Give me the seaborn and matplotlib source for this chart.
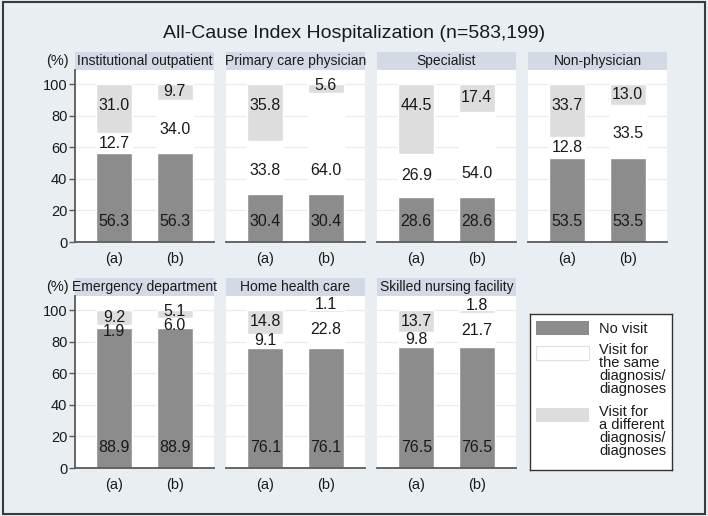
import numpy as np
import pandas as pd
import matplotlib
matplotlib.use("Agg")
import matplotlib.pyplot as plt
from matplotlib.patches import Rectangle
import seaborn as sns

sns.set_style("white")
plt.rcParams['font.family'] = ['Liberation Sans', 'DejaVu Sans']

# data
settings = ["Institutional outpatient", "Primary care physician", "Specialist",
            "Non-physician", "Emergency department", "Home health care",
            "Skilled nursing facility"]
groups = ["(a)", "(b)"]
no_visit = [[56.3, 56.3], [30.4, 30.4], [28.6, 28.6], [53.5, 53.5],
            [88.9, 88.9], [76.1, 76.1], [76.5, 76.5]]
same_dx = [[12.7, 34.0], [33.8, 64.0], [26.9, 54.0], [12.8, 33.5],
           [1.9, 6.0], [9.1, 22.8], [9.8, 21.7]]
diff_dx = [[31.0, 9.7], [35.8, 5.6], [44.5, 17.4], [33.7, 13.0],
           [9.2, 5.1], [14.8, 1.1], [13.7, 1.8]]
legend_labels = ["No visit",
                 "Visit for\nthe same\ndiagnosis/\ndiagnoses",
                 "Visit for\na different\ndiagnosis/\ndiagnoses"]
title = "All-Cause Index Hospitalization (n=583,199)"

C_NO = "#8c8c8c"
C_SAME = "#ffffff"
C_DIFF = "#dddddd"
BG = "#e8eef1"
STRIP = "#d4d9e6"
TXT = "#1a1a1a"

W, H = 708, 516
fig = plt.figure(figsize=(W / 100, H / 100), dpi=100, facecolor=BG)

lefts = [75, 226, 377, 528]
tops = [70, 296]
aw, ah = 139, 172
ymax = 109

def place(px_left, px_top, pw, ph):
    return [px_left / W, 1 - (px_top + ph) / H, pw / W, ph / H]

for i, name in enumerate(settings):
    r, c = divmod(i, 4)
    ax = fig.add_axes(place(lefts[c], tops[r], aw, ah))
    ax.set_facecolor("white")
    df = pd.DataFrame({"group": groups, "a": no_visit[i], "b": same_dx[i], "c": diff_dx[i]})
    df["ab"] = df["a"] + df["b"]
    df["abc"] = df["ab"] + df["c"]

    # stacked bars: draw totals first, then overlay lower parts
    sns.barplot(data=df, x="group", y="abc", color=C_DIFF, saturation=1, width=0.6, ax=ax, zorder=2)
    sns.barplot(data=df, x="group", y="ab", color=C_SAME, saturation=1, width=0.6, ax=ax, zorder=3)
    sns.barplot(data=df, x="group", y="a", color=C_NO, saturation=1, width=0.6, ax=ax, zorder=4)

    ax.set_xlim(-0.65, 1.65)
    ax.set_ylim(0, ymax)
    ax.set_xlabel("")
    ax.set_ylabel("")
    ax.set_yticks(np.arange(0, 101, 20))
    ax.set_axisbelow(True)
    ax.yaxis.grid(True, color="#e9edf0", lw=0.9)
    ax.xaxis.grid(False)

    for s in ["top", "right"]:
        ax.spines[s].set_visible(False)
    ax.spines["bottom"].set_color("#5a5a5a")
    ax.spines["bottom"].set_linewidth(1.3)
    ax.spines["bottom"].set_zorder(5)
    if c == 0:
        ax.spines["left"].set_color("#5a5a5a")
        ax.spines["left"].set_linewidth(1.3)
        ax.tick_params(axis="y", length=4, width=1, color="#5a5a5a", direction="out",
                       labelsize=10.5, labelcolor=TXT, pad=1.5, left=True)
        fig.text((lefts[c] - 6) / W, 1 - (tops[r] - 9) / H, "(%)", ha="right", va="center",
                 fontsize=10.5, color=TXT)
    else:
        ax.spines["left"].set_visible(False)
        ax.tick_params(axis="y", length=0, labelleft=False)
    ax.tick_params(axis="x", length=0, pad=7, labelsize=10.5, labelcolor=TXT)

    # strip title
    sh = 18 / ah
    ax.add_patch(Rectangle((0, 1), 1, sh, transform=ax.transAxes, clip_on=False,
                           facecolor=STRIP, edgecolor="none"))
    ax.text(0.5, 1 + sh / 2, name, transform=ax.transAxes, ha="center", va="center",
            fontsize=10, color=TXT)

    # value labels
    for j in range(2):
        a, b, cc = no_visit[i][j], same_dx[i][j], diff_dx[i][j]
        y_c = max(a + b + cc / 2, 86.5, a + b + 4.5)
        y_b = min(a + b / 2, a + 15, y_c - 9)
        y_a = 13
        for val, yy in [(a, y_a), (b, y_b), (cc, y_c)]:
            ax.text(j, yy, f"{val:.1f}", ha="center", va="center", fontsize=11.5,
                    color=TXT, zorder=6)

# legend drawn as a small box in the empty slot
lg = fig.add_axes(place(530, 314, 142, 156))
lg.set_xlim(0, 142)
lg.set_ylim(156, 0)
lg.set_xticks([])
lg.set_yticks([])
lg.set_facecolor("white")
for s in lg.spines.values():
    s.set_color("#333333")
    s.set_linewidth(1)
for col, y0, lab, ty in [(C_NO, 7, legend_labels[0], 15),
                         (C_SAME, 32, legend_labels[1], 29),
                         (C_DIFF, 94, legend_labels[2], 91)]:
    lg.add_patch(Rectangle((6, y0), 53, 14, facecolor=col,
                           edgecolor="#e0e0e0" if col == C_SAME else "none", lw=0.8))
    lg.text(69, ty, lab, ha="left", va="center" if "\n" not in lab else "top",
            fontsize=10.5, color=TXT, linespacing=0.92)

fig.text(0.5, 1 - 33 / H, title, ha="center", va="center", fontsize=14, color=TXT)
fig.patches.append(Rectangle((2.5 / W, 2.5 / H), 702.5 / W, 512 / H, transform=fig.transFigure,
                             fill=False, edgecolor="#3a3a3a", lw=1.5))

fig.savefig("out.png", dpi=100, facecolor=BG)
